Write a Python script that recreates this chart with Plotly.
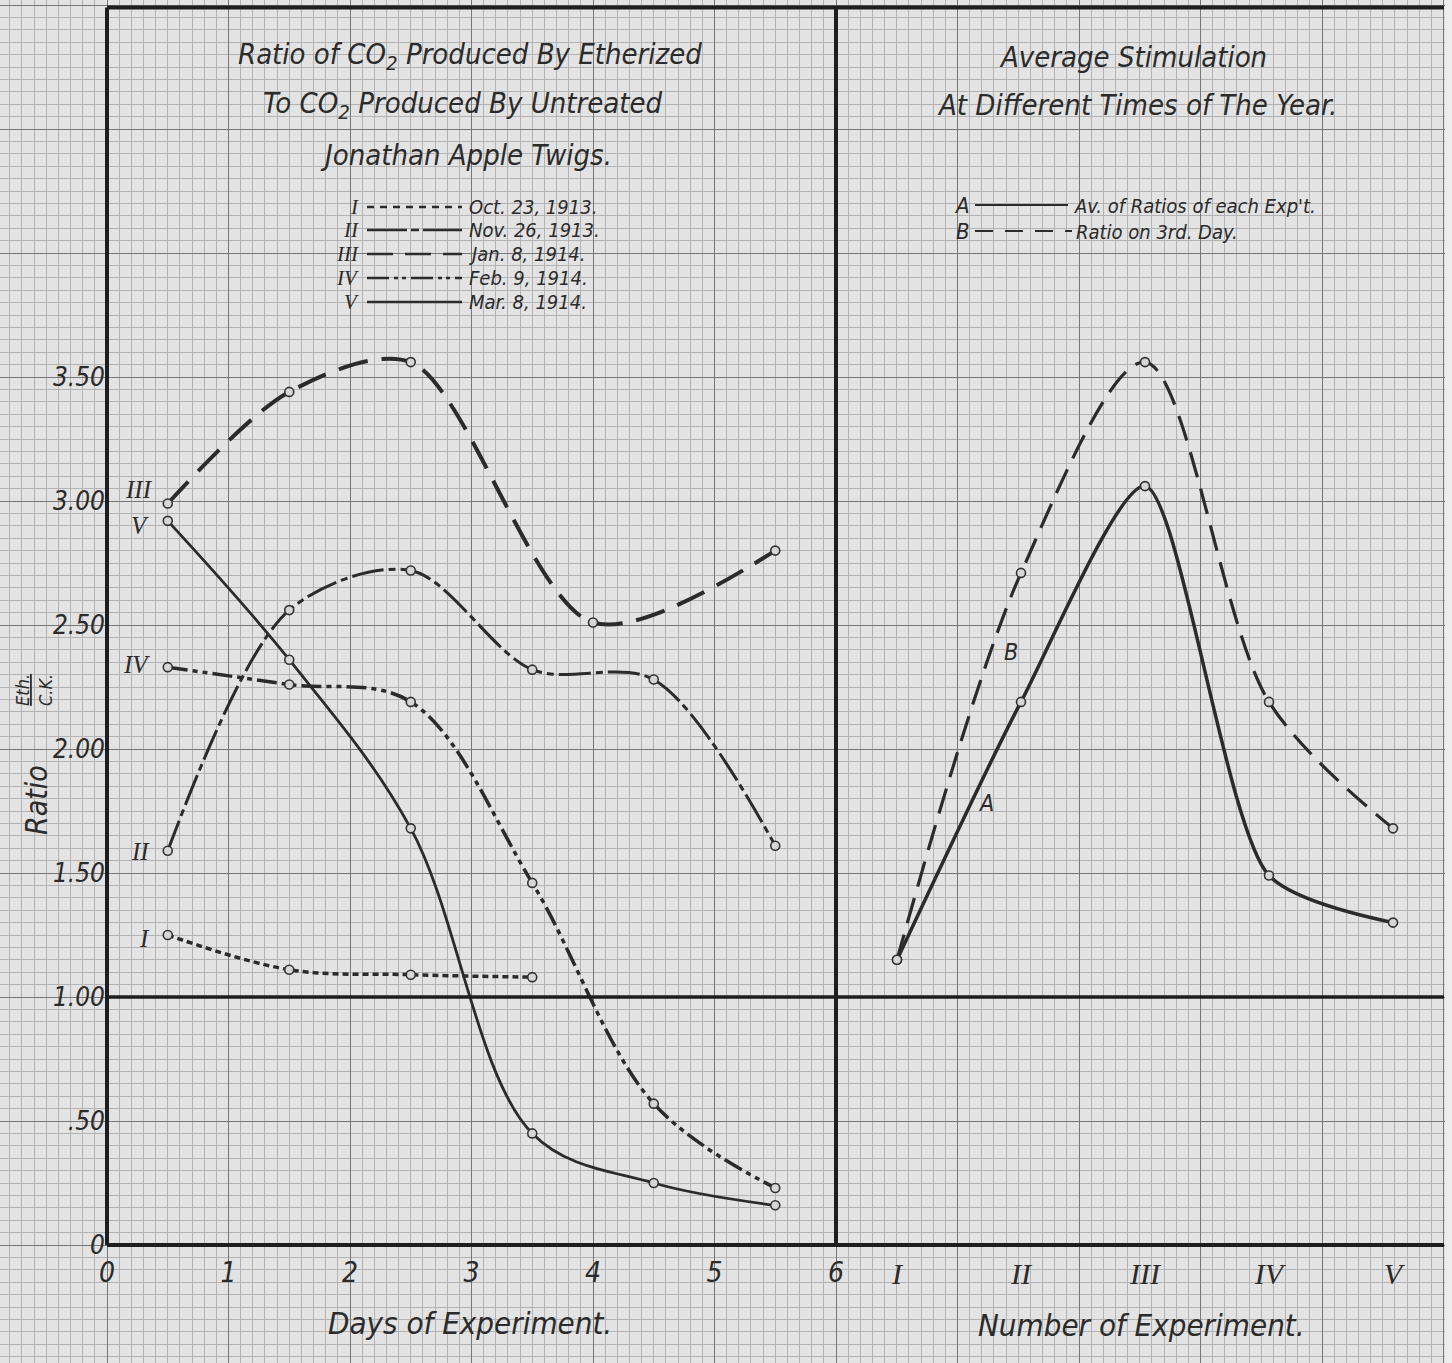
import plotly.graph_objects as go

W, H = 1452, 1363

# ---------------- data ----------------
days_I = [0.5, 1.5, 2.5, 3.5]
ratio_I = [1.25, 1.11, 1.09, 1.08]

days_II = [0.5, 1.5, 2.5, 3.5, 4.5, 5.5]
ratio_II = [1.59, 2.56, 2.72, 2.32, 2.28, 1.61]

days_III = [0.5, 1.5, 2.5, 4.0, 5.5]
ratio_III = [2.99, 3.44, 3.56, 2.51, 2.80]

days_IV = [0.5, 1.5, 2.5, 3.5, 4.5, 5.5]
ratio_IV = [2.33, 2.26, 2.19, 1.46, 0.57, 0.23]

days_V = [0.5, 1.5, 2.5, 3.5, 4.5, 5.5]
ratio_V = [2.92, 2.36, 1.68, 0.45, 0.25, 0.16]

experiments = ["I", "II", "III", "IV", "V"]
avg_ratio_A = [1.15, 2.19, 3.06, 1.49, 1.30]
third_day_B = [1.15, 2.71, 3.56, 2.19, 1.68]

day_ticks = [0, 1, 2, 3, 4, 5, 6]
ratio_ticks = [0, 0.5, 1.0, 1.5, 2.0, 2.5, 3.0, 3.5]
ratio_ticktext = ["0", ".50", "1.00", "1.50", "2.00", "2.50", "3.00", "3.50"]

series_dates = ["Oct. 23, 1913.", "Nov. 26, 1913.", "Jan. 8, 1914.", "Feb. 9, 1914.", "Mar. 8, 1914."]

# ---------------- styling ----------------
INK = "#2b2b2b"
PAPER = "#e3e3e3"
MINOR = "#b3b3b3"
MAJOR = "#777777"
HAND = "Liberation Sans Narrow, DejaVu Sans Condensed, Roboto, sans-serif"
SERIF = "Liberation Serif, DejaVu Serif, serif"

# axis geometry (pixel origin / scale of the graph paper)
X0, SX = 107, 121.5       # day 0 at px 107, 121.5 px per day
Y0, SY = 1245, 248        # ratio 0 at py 1245, 248 px per unit
C0, SC = 897, 124         # experiment I at px 897, 124 px per experiment

X_RANGE = [-X0 / SX, (W - X0) / SX]
Y_RANGE = [-(H - Y0) / SY, Y0 / SY]
C_RANGE = [-C0 / SC, (W - C0) / SC]
AXIS_POS_Y = (H - Y0) / H
AXIS_POS_X = X0 / W


def fx(px):
    return px / W


def fy(py):
    return 1 - py / H


marker = dict(symbol="circle", size=9, color="#d6d6d6", line=dict(color="#333333", width=1.6))

fig = go.Figure()

# base (graph paper) subplot
fig.add_trace(go.Scatter(x=[], y=[], xaxis="x", yaxis="y", showlegend=False, hoverinfo="skip"))

series = [
    (days_I, ratio_I, "6px,4px", 3.5, 1.0),
    (days_II, ratio_II, "32px,5px,7px,5px", 3.0, 0.9),
    (days_III, ratio_III, "30px,14px", 4.0, 0.85),
    (days_IV, ratio_IV, "20px,5px,5px,5px,5px,5px", 3.5, 1.0),
    (days_V, ratio_V, "solid", 2.8, 1.0),
]
for xs, ys, dash, w, sm in series:
    fig.add_trace(go.Scatter(
        x=xs, y=ys, xaxis="x2", yaxis="y2", mode="lines+markers",
        line=dict(color=INK, width=w, dash=dash, shape="spline", smoothing=sm),
        marker=marker, showlegend=False, hoverinfo="skip"))

fig.add_trace(go.Scatter(
    x=experiments, y=third_day_B, xaxis="x3", yaxis="y2", mode="lines+markers",
    line=dict(color=INK, width=3.2, dash="26px,12px", shape="spline", smoothing=0.9),
    marker=marker, showlegend=False, hoverinfo="skip"))
fig.add_trace(go.Scatter(
    x=experiments, y=avg_ratio_A, xaxis="x3", yaxis="y2", mode="lines+markers",
    line=dict(color=INK, width=3.5, shape="spline", smoothing=0.7),
    marker=marker, showlegend=False, hoverinfo="skip"))

# ---------------- heavy ruled lines ----------------
x_end = (1444 - X0) / SX
heavy = dict(color="#1e1e1e", width=4)
shapes = [
    dict(type="line", xref="x2", yref="y2", x0=0, x1=0, y0=0, y1=4.99, line=heavy),
    dict(type="line", xref="x2", yref="y2", x0=0, x1=x_end, y0=0, y1=0, line=heavy),
    dict(type="line", xref="x2", yref="y2", x0=0, x1=x_end, y0=4.99, y1=4.99, line=heavy),
    dict(type="line", xref="x2", yref="y2", x0=6, x1=6, y0=0, y1=4.99, line=heavy),
    dict(type="line", xref="x2", yref="y2", x0=0, x1=x_end, y0=1, y1=1, line=dict(color="#1e1e1e", width=3.5)),
    dict(type="rect", xref="paper", yref="paper", x0=fx(1445), x1=1, y0=0, y1=1,
         fillcolor="#ededed", line=dict(width=0), layer="above"),
]

# legend sample lines (left)
leg_rows = [207, 230, 254, 278, 302]
leg_dash = ["7px,6px", "40px,4px,8px,4px", "26px,12px", "22px,5px,4px,4px,4px,5px", "solid"]
for row, dsh in zip(leg_rows, leg_dash):
    shapes.append(dict(type="line", xref="paper", yref="paper", x0=fx(367), x1=fx(462),
                       y0=fy(row), y1=fy(row), line=dict(color=INK, width=2.5, dash=dsh)))
# legend sample lines (right)
shapes.append(dict(type="line", xref="paper", yref="paper", x0=fx(975), x1=fx(1068),
                   y0=fy(205), y1=fy(205), line=dict(color=INK, width=2, dash="solid")))
shapes.append(dict(type="line", xref="paper", yref="paper", x0=fx(975), x1=fx(1072),
                   y0=fy(231), y1=fy(231), line=dict(color=INK, width=2, dash="18px,12px")))

# ---------------- text ----------------
ann = []


def txt(px, py, text, size, family=HAND, xanchor="center", angle=0):
    ann.append(dict(x=fx(px), y=fy(py), xref="paper", yref="paper", text=text, showarrow=False,
                    xanchor=xanchor, yanchor="middle", textangle=angle,
                    font=dict(family=family, size=size, color=INK)))


# titles
txt(470, 56, "<i>Ratio of CO<sub>2</sub> Produced By Etherized</i>", 29)
txt(463, 105, "<i>To CO<sub>2</sub> Produced By Untreated</i>", 29)
txt(466, 155, "<i>Jonathan Apple Twigs.</i>", 29)
txt(1133, 57, "<i>Average Stimulation</i>", 29)
txt(1137, 105, "<i>At Different Times of The Year.</i>", 29)

# left legend
for row, num, date in zip(leg_rows, experiments, series_dates):
    txt(361, row, "<i>" + num + "</i>", 21, family=SERIF, xanchor="right")
    txt(467, row, "<i>" + date + "</i>", 20, xanchor="left")

# right legend
txt(972, 205, "<i>A</i>", 22, xanchor="right")
txt(1072, 206, "<i>Av. of Ratios of each Exp't.</i>", 20, xanchor="left")
txt(972, 231, "<i>B</i>", 22, xanchor="right")
txt(1074, 232, "<i>Ratio on 3rd. Day.</i>", 20, xanchor="left")

# series labels beside first points
label_pos = [(152, 938), (152, 851), (155, 490), (152, 664), (151, 526)]
for (px, py), num in zip(label_pos, experiments):
    txt(px, py, "<i>" + num + "</i>", 25, family=SERIF, xanchor="right")
txt(1011, 652, "<i>B</i>", 23)
txt(986, 803, "<i>A</i>", 23)

# axis titles
txt(470, 1323, "<i>Days of Experiment.</i>", 31)
txt(1141, 1325, "<i>Number of Experiment.</i>", 31)
txt(36, 800, "<i>Ratio</i>", 30, angle=-90)
txt(34, 690, "<i><u>Eth.</u><br>C.K.</i>", 18, angle=-90)

fig.update_layout(
    width=W, height=H,
    margin=dict(l=0, r=0, t=0, b=0),
    paper_bgcolor=PAPER, plot_bgcolor=PAPER,
    showlegend=False,
    shapes=shapes,
    annotations=ann,
    xaxis=dict(domain=[0, 1], range=X_RANGE, tick0=0, dtick=1, showgrid=True,
               gridcolor=MAJOR, gridwidth=1.4, zeroline=False, showticklabels=False, ticks="",
               minor=dict(tick0=0, dtick=0.1, showgrid=True, gridcolor=MINOR, gridwidth=1),
               fixedrange=True),
    yaxis=dict(domain=[0, 1], range=Y_RANGE, tick0=0, dtick=0.5, showgrid=True,
               gridcolor=MAJOR, gridwidth=1.4, zeroline=False, showticklabels=False, ticks="",
               minor=dict(tick0=0, dtick=0.05, showgrid=True, gridcolor=MINOR, gridwidth=1),
               fixedrange=True),
    xaxis2=dict(overlaying="x", range=X_RANGE, anchor="free", position=AXIS_POS_Y,
                tickmode="array", tickvals=day_ticks, ticktext=["<i>%d</i>" % d for d in day_ticks],
                showgrid=False, zeroline=False, showline=False, ticks="", ticklabelstandoff=8,
                tickfont=dict(family=HAND, size=28, color=INK)),
    xaxis3=dict(overlaying="x", type="category", categoryorder="array", categoryarray=experiments,
                range=C_RANGE, anchor="free", position=AXIS_POS_Y,
                tickmode="array", tickvals=experiments, ticktext=["<i>%s</i>" % e for e in experiments],
                showgrid=False, zeroline=False, showline=False, ticks="", ticklabelstandoff=8,
                tickfont=dict(family=SERIF, size=30, color=INK)),
    yaxis2=dict(overlaying="y", range=Y_RANGE, anchor="free", position=AXIS_POS_X, side="left",
                tickmode="array", tickvals=ratio_ticks, ticktext=["<i>%s</i>" % t for t in ratio_ticktext],
                showgrid=False, zeroline=False, showline=False, ticks="", ticklabelstandoff=2,
                tickfont=dict(family=HAND, size=26, color=INK)),
)

fig.write_html("out.html", config={"displayModeBar": False},
               post_script="document.body.style.margin='0';")
